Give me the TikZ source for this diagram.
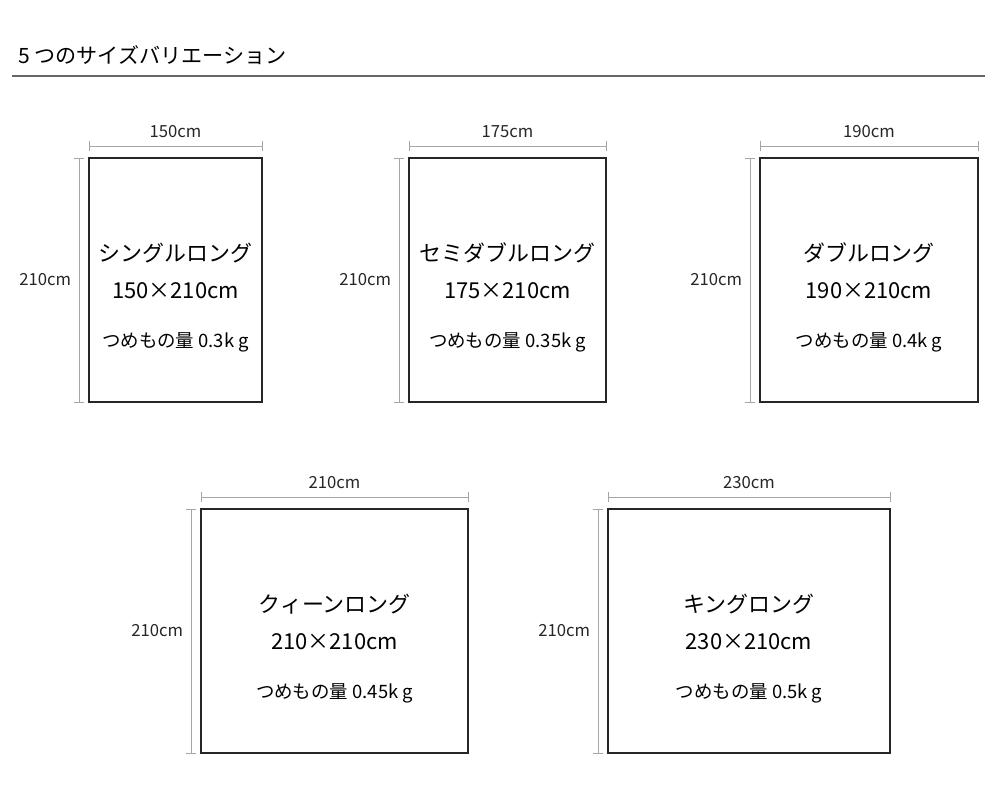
\documentclass[tikz,border=0pt]{standalone}
\usepackage{fontspec}
\setmainfont{Noto Sans CJK JP}
\usetikzlibrary{positioning,calc}
\tikzset{
  rugbox/.style={draw=black!85,line width=0.7pt},
  dimline/.style={draw=black!35,line width=0.5pt},
  dimtext/.style={font=\fontsize{9.5}{11}\selectfont,text=black!85},
}
% \rug{name}{x1}{y1}{x2}{y2}{width label}{title}{size}{fill}
\newcommand{\rug}[9]{%
  \draw[rugbox] (#2,#3) rectangle (#4,#5);
  \coordinate (#1wl) at (#2,#3-12); \coordinate (#1wr) at (#4,#3-12);
  \coordinate (#1ht) at (#2-10,#3); \coordinate (#1hb) at (#2-10,#5);
  \draw[dimline] (#1wl) -- (#1wr);
  \draw[dimline] ([yshift=-3pt]#1wl) -- ([yshift=3pt]#1wl);
  \draw[dimline] ([yshift=-3pt]#1wr) -- ([yshift=3pt]#1wr);
  \draw[dimline] (#1ht) -- (#1hb);
  \draw[dimline] ([xshift=-3pt]#1ht) -- ([xshift=3pt]#1ht);
  \draw[dimline] ([xshift=-3pt]#1hb) -- ([xshift=3pt]#1hb);
  \node[dimtext,above=1pt] (#1w) at ($(#1wl)!0.5!(#1wr)$) {#6};
  \node[dimtext,left=1pt] (#1h) at ($(#1ht)!0.5!(#1hb)$) {210cm};
  \node[font=\fontsize{12.5}{14}\selectfont] (#1n) at ({(#2+#4)/2},{(#3+#5)/2-27}) {#7};
  \node[font=\fontsize{12.5}{14}\selectfont,below=4pt of #1n] (#1s) {#8};
  \node[font=\fontsize{10.5}{12}\selectfont,below=12pt of #1s] (#1f) {#9};
}
\begin{document}
\begin{tikzpicture}[x=0.02cm,y=-0.02cm]
  \useasboundingbox (0,0) rectangle (1000,800);
  % title
  \node[anchor=west,font=\fontsize{12}{14}\selectfont] (title) at (12,55) {5 つのサイズバリエーション};
  \draw[black!60,line width=0.6pt] (12,76) -- (985,76);
  % rugs
  \rug{sg}{89}{158}{262}{402}{150cm}{シングルロング}{150×210cm}{つめもの量 0.3k g}
  \rug{sd}{409}{158}{606}{402}{175cm}{セミダブルロング}{175×210cm}{つめもの量 0.35k g}
  \rug{db}{760}{158}{978}{402}{190cm}{ダブルロング}{190×210cm}{つめもの量 0.4k g}
  \rug{qn}{201}{509}{468}{753}{210cm}{クィーンロング}{210×210cm}{つめもの量 0.45k g}
  \rug{kg}{608}{509}{890}{753}{230cm}{キングロング}{230×210cm}{つめもの量 0.5k g}
\end{tikzpicture}
\end{document}
